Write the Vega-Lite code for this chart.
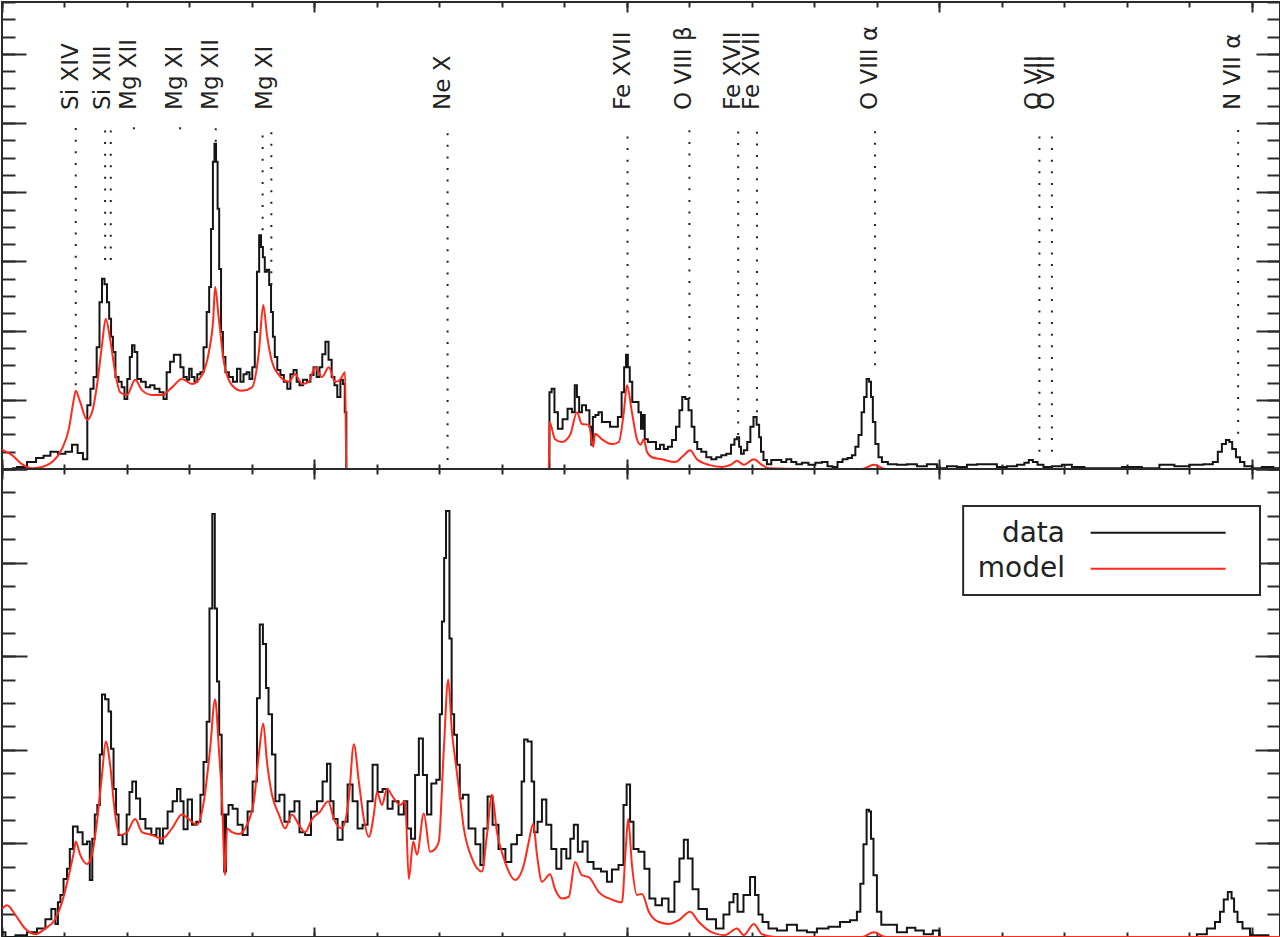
{
  "$schema": "https://vega.github.io/schema/vega-lite/v6.json",
  "padding": 0,
  "autosize": {"type": "pad"},
  "background": "white",
  "spacing": 0,
  "bounds": "flush",
  "config": {
    "view": {"stroke": "#2a2a2a", "strokeWidth": 2},
    "axis": {"labels": false, "domain": false, "grid": false, "tickColor": "#2a2a2a", "tickWidth": 2, "minExtent": 0, "maxExtent": 0},
    "text": {"font": "DejaVu Sans"}
  },
  "datasets": {
    "topData": [
      {"wl":5.16,"flux":0.01},{"wl":5.32,"flux":0.03},{"wl":5.48,"flux":0.10},{"wl":5.61,"flux":0.16},{"wl":5.72,"flux":0.19},{"wl":5.83,"flux":0.25},{"wl":5.96,"flux":0.22},{"wl":6.07,"flux":0.25},{"wl":6.17,"flux":0.35},{"wl":6.25,"flux":0.23},{"wl":6.34,"flux":0.14},
      {"wl":6.39,"flux":0.92},{"wl":6.44,"flux":1.16},{"wl":6.49,"flux":1.33},{"wl":6.54,"flux":1.76},{"wl":6.58,"flux":2.41},{"wl":6.62,"flux":2.75},{"wl":6.66,"flux":2.67},{"wl":6.70,"flux":2.41},{"wl":6.73,"flux":2.17},{"wl":6.76,"flux":1.91},{"wl":6.79,"flux":1.69},{"wl":6.84,"flux":1.33},{"wl":6.89,"flux":1.26},{"wl":6.94,"flux":1.18},{"wl":6.98,"flux":1.01},
      {"wl":7.03,"flux":1.30},{"wl":7.06,"flux":1.62},{"wl":7.10,"flux":1.79},{"wl":7.14,"flux":1.69},{"wl":7.19,"flux":1.30},{"wl":7.26,"flux":1.26},{"wl":7.34,"flux":1.18},{"wl":7.40,"flux":1.21},{"wl":7.48,"flux":1.16},{"wl":7.56,"flux":1.11},{"wl":7.61,"flux":1.01},{"wl":7.66,"flux":1.40},{"wl":7.72,"flux":1.55},{"wl":7.78,"flux":1.65},{"wl":7.83,"flux":1.65},{"wl":7.88,"flux":1.47},{"wl":7.93,"flux":1.33},{"wl":7.98,"flux":1.29},
      {"wl":8.01,"flux":1.45},{"wl":8.06,"flux":1.33},{"wl":8.10,"flux":1.26},{"wl":8.15,"flux":1.37},{"wl":8.20,"flux":1.40},{"wl":8.25,"flux":1.76},{"wl":8.30,"flux":2.27},{"wl":8.33,"flux":2.63},{"wl":8.36,"flux":3.47},{"wl":8.39,"flux":4.44},{"wl":8.41,"flux":4.70},{"wl":8.44,"flux":4.44},{"wl":8.46,"flux":3.76},{"wl":8.49,"flux":2.89},{"wl":8.52,"flux":1.98},{"wl":8.55,"flux":1.62},{"wl":8.60,"flux":1.40},{"wl":8.66,"flux":1.33},{"wl":8.73,"flux":1.26},{"wl":8.79,"flux":1.45},{"wl":8.84,"flux":1.26},{"wl":8.89,"flux":1.37},{"wl":8.94,"flux":1.40},{"wl":8.98,"flux":1.30},
      {"wl":9.03,"flux":1.47},{"wl":9.06,"flux":1.98},{"wl":9.10,"flux":2.85},{"wl":9.13,"flux":3.38},{"wl":9.16,"flux":3.21},{"wl":9.19,"flux":3.06},{"wl":9.22,"flux":2.85},{"wl":9.26,"flux":2.88},{"wl":9.29,"flux":2.66},{"wl":9.32,"flux":2.27},{"wl":9.35,"flux":1.91},{"wl":9.38,"flux":1.62},{"wl":9.43,"flux":1.43},{"wl":9.48,"flux":1.36},{"wl":9.54,"flux":1.26},{"wl":9.59,"flux":1.16},{"wl":9.64,"flux":1.37},{"wl":9.69,"flux":1.43},{"wl":9.74,"flux":1.26},{"wl":9.78,"flux":1.21},{"wl":9.85,"flux":1.29},{"wl":9.91,"flux":1.26},{"wl":9.96,"flux":1.36},
      {"wl":10.01,"flux":1.47},{"wl":10.06,"flux":1.33},{"wl":10.10,"flux":1.47},{"wl":10.15,"flux":1.66},{"wl":10.20,"flux":1.84},{"wl":10.25,"flux":1.58},{"wl":10.30,"flux":1.33},{"wl":10.34,"flux":1.21},{"wl":10.39,"flux":1.04},{"wl":10.44,"flux":1.29},{"wl":10.47,"flux":1.23},{"wl":10.50,"flux":0.82},{"wl":10.52,"flux":0},
      {"wl":13.75,"flux":0},{"wl":13.77,"flux":1.11},{"wl":13.82,"flux":1.16},{"wl":13.86,"flux":0.82},{"wl":13.93,"flux":0.58},{"wl":14.01,"flux":0.72},{"wl":14.09,"flux":0.87},{"wl":14.15,"flux":0.82},{"wl":14.18,"flux":1.21},{"wl":14.22,"flux":1.04},{"wl":14.25,"flux":0.82},{"wl":14.31,"flux":0.92},{"wl":14.38,"flux":0.85},{"wl":14.42,"flux":0.61},{"wl":14.44,"flux":0.35},{"wl":14.47,"flux":0.75},{"wl":14.52,"flux":0.78},{"wl":14.57,"flux":0.82},{"wl":14.63,"flux":0.68},{"wl":14.70,"flux":0.68},{"wl":14.76,"flux":0.61},{"wl":14.82,"flux":0.61},{"wl":14.89,"flux":0.75},{"wl":14.94,"flux":1.11},{"wl":14.97,"flux":1.47},
      {"wl":15.00,"flux":1.65},{"wl":15.03,"flux":1.47},{"wl":15.06,"flux":1.26},{"wl":15.11,"flux":0.97},{"wl":15.16,"flux":0.97},{"wl":15.21,"flux":0.82},{"wl":15.24,"flux":0.58},{"wl":15.27,"flux":0.78},{"wl":15.30,"flux":0.43},{"wl":15.37,"flux":0.39},{"wl":15.43,"flux":0.39},{"wl":15.50,"flux":0.29},{"wl":15.56,"flux":0.35},{"wl":15.62,"flux":0.29},{"wl":15.69,"flux":0.32},{"wl":15.75,"flux":0.42},{"wl":15.82,"flux":0.61},{"wl":15.86,"flux":0.85},{"wl":15.91,"flux":1.04},{"wl":15.96,"flux":1.01},
      {"wl":16.01,"flux":0.85},{"wl":16.06,"flux":0.61},{"wl":16.10,"flux":0.39},{"wl":16.15,"flux":0.29},{"wl":16.23,"flux":0.25},{"wl":16.31,"flux":0.17},{"wl":16.39,"flux":0.14},{"wl":16.47,"flux":0.17},{"wl":16.55,"flux":0.20},{"wl":16.63,"flux":0.22},{"wl":16.70,"flux":0.35},{"wl":16.74,"flux":0.43},{"wl":16.78,"flux":0.46},{"wl":16.81,"flux":0.32},{"wl":16.84,"flux":0.22},{"wl":16.90,"flux":0.27},{"wl":16.95,"flux":0.39},
      {"wl":17.00,"flux":0.61},{"wl":17.05,"flux":0.75},{"wl":17.10,"flux":0.64},{"wl":17.13,"flux":0.46},{"wl":17.16,"flux":0.25},{"wl":17.21,"flux":0.13},{"wl":17.27,"flux":0.07},{"wl":17.35,"flux":0.13},{"wl":17.43,"flux":0.13},{"wl":17.51,"flux":0.10},{"wl":17.59,"flux":0.14},{"wl":17.67,"flux":0.10},{"wl":17.75,"flux":0.07},{"wl":17.85,"flux":0.09},{"wl":17.96,"flux":0.06},
      {"wl":18.07,"flux":0.09},{"wl":18.17,"flux":0.10},{"wl":18.25,"flux":0.04},{"wl":18.33,"flux":0.03},{"wl":18.41,"flux":0.10},{"wl":18.49,"flux":0.14},{"wl":18.57,"flux":0.16},{"wl":18.63,"flux":0.20},{"wl":18.68,"flux":0.32},{"wl":18.73,"flux":0.49},{"wl":18.78,"flux":0.82},{"wl":18.81,"flux":1.04},{"wl":18.86,"flux":1.30},{"wl":18.89,"flux":1.26},{"wl":18.92,"flux":1.04},{"wl":18.95,"flux":0.68},
      {"wl":19.00,"flux":0.36},{"wl":19.05,"flux":0.17},{"wl":19.11,"flux":0.10},{"wl":19.24,"flux":0.07},{"wl":19.40,"flux":0.06},{"wl":19.56,"flux":0.07},{"wl":19.72,"flux":0.04},{"wl":19.88,"flux":0.07},{"wl":20.04,"flux":0.01},{"wl":20.20,"flux":0.04},{"wl":20.36,"flux":0.03},{"wl":20.52,"flux":0.06},{"wl":20.68,"flux":0.07},{"wl":20.84,"flux":0.07},
      {"wl":21.00,"flux":0.03},{"wl":21.16,"flux":0.04},{"wl":21.32,"flux":0.06},{"wl":21.40,"flux":0.09},{"wl":21.46,"flux":0.13},{"wl":21.53,"flux":0.10},{"wl":21.61,"flux":0.06},{"wl":21.72,"flux":0.03},{"wl":21.88,"flux":0.04},{"wl":22.04,"flux":0.06},{"wl":22.20,"flux":0.03},{"wl":22.44,"flux":0.01},{"wl":22.76,"flux":0.01},{"wl":23.08,"flux":0.03},{"wl":23.40,"flux":0.01},{"wl":23.64,"flux":0.06},{"wl":23.88,"flux":0.04},
      {"wl":24.12,"flux":0.06},{"wl":24.33,"flux":0.07},{"wl":24.42,"flux":0.10},{"wl":24.49,"flux":0.25},{"wl":24.55,"flux":0.36},{"wl":24.62,"flux":0.42},{"wl":24.66,"flux":0.39},{"wl":24.71,"flux":0.29},{"wl":24.78,"flux":0.17},{"wl":24.84,"flux":0.10},{"wl":24.92,"flux":0.04},{"wl":25.08,"flux":0.01},{"wl":25.24,"flux":0.03},{"wl":25.45,"flux":0.01}
    ],
    "topModel": [
      {"wl":5.00,"flux":0.28},{"wl":5.16,"flux":0.20},{"wl":5.32,"flux":0.07},{"wl":5.48,"flux":0.01},{"wl":5.64,"flux":0.03},{"wl":5.80,"flux":0.10},{"wl":5.96,"flux":0.29},{"wl":6.07,"flux":0.58},{"wl":6.15,"flux":1.01},{"wl":6.18,"flux":1.13},{"wl":6.25,"flux":0.97},{"wl":6.36,"flux":0.71},{"wl":6.44,"flux":0.82},{"wl":6.52,"flux":1.21},{"wl":6.60,"flux":1.79},{"wl":6.66,"flux":2.17},{"wl":6.73,"flux":1.88},{"wl":6.81,"flux":1.40},{"wl":6.89,"flux":1.11},
      {"wl":7.00,"flux":1.07},{"wl":7.13,"flux":1.29},{"wl":7.24,"flux":1.14},{"wl":7.40,"flux":1.07},{"wl":7.56,"flux":1.07},{"wl":7.72,"flux":1.18},{"wl":7.88,"flux":1.30},{"wl":8.04,"flux":1.23},{"wl":8.20,"flux":1.36},{"wl":8.31,"flux":1.69},{"wl":8.38,"flux":2.17},{"wl":8.41,"flux":2.63},{"wl":8.47,"flux":2.17},{"wl":8.55,"flux":1.55},{"wl":8.68,"flux":1.21},{"wl":8.84,"flux":1.13},
      {"wl":9.00,"flux":1.18},{"wl":9.11,"flux":1.69},{"wl":9.18,"flux":2.37},{"wl":9.24,"flux":1.94},{"wl":9.32,"flux":1.55},{"wl":9.43,"flux":1.36},{"wl":9.59,"flux":1.26},{"wl":9.69,"flux":1.37},{"wl":9.80,"flux":1.23},{"wl":9.91,"flux":1.26},{"wl":10.01,"flux":1.47},{"wl":10.12,"flux":1.33},{"wl":10.23,"flux":1.47},{"wl":10.33,"flux":1.26},{"wl":10.41,"flux":1.29},{"wl":10.49,"flux":1.40},{"wl":10.51,"flux":0},
      {"wl":13.75,"flux":0},{"wl":13.76,"flux":0.68},{"wl":13.85,"flux":0.43},{"wl":13.96,"flux":0.39},{"wl":14.09,"flux":0.49},{"wl":14.20,"flux":0.82},{"wl":14.28,"flux":0.65},{"wl":14.39,"flux":0.64},{"wl":14.46,"flux":0.32},{"wl":14.49,"flux":0.51},{"wl":14.60,"flux":0.43},{"wl":14.76,"flux":0.36},{"wl":14.87,"flux":0.39},{"wl":14.95,"flux":0.82},
      {"wl":15.00,"flux":1.21},{"wl":15.08,"flux":0.82},{"wl":15.16,"flux":0.43},{"wl":15.22,"flux":0.35},{"wl":15.27,"flux":0.43},{"wl":15.32,"flux":0.25},{"wl":15.40,"flux":0.17},{"wl":15.56,"flux":0.14},{"wl":15.77,"flux":0.10},{"wl":15.91,"flux":0.20},{"wl":16.01,"flux":0.27},{"wl":16.12,"flux":0.14},{"wl":16.31,"flux":0.06},{"wl":16.52,"flux":0.03},{"wl":16.68,"flux":0.07},{"wl":16.76,"flux":0.12},{"wl":16.87,"flux":0.06},
      {"wl":17.03,"flux":0.14},{"wl":17.16,"flux":0.06},{"wl":17.27,"flux":0.01},{"wl":17.80,"flux":0},{"wl":18.76,"flux":0},{"wl":18.95,"flux":0.06},{"wl":19.14,"flux":0},{"wl":25.45,"flux":0}
    ],
    "botData": [
      {"wl":5.00,"flux":0.05},{"wl":5.11,"flux":0},{"wl":5.32,"flux":0.02},{"wl":5.48,"flux":0.05},{"wl":5.64,"flux":0.09},{"wl":5.75,"flux":0.19},{"wl":5.83,"flux":0.30},{"wl":5.88,"flux":0.14},{"wl":5.91,"flux":0.37},{"wl":5.96,"flux":0.45},{"wl":6.01,"flux":0.62},{"wl":6.07,"flux":0.73},{"wl":6.10,"flux":0.94},{"wl":6.17,"flux":1.18},{"wl":6.25,"flux":1.12},{"wl":6.33,"flux":0.99},{"wl":6.39,"flux":1.02},{"wl":6.42,"flux":0.61},{"wl":6.47,"flux":1.05},{"wl":6.50,"flux":1.31},{"wl":6.55,"flux":1.41},{"wl":6.58,"flux":1.95},{"wl":6.62,"flux":2.59},{"wl":6.68,"flux":2.54},{"wl":6.73,"flux":2.41},{"wl":6.76,"flux":2.01},{"wl":6.81,"flux":1.58},{"wl":6.84,"flux":1.31},{"wl":6.89,"flux":1.09},{"wl":6.97,"flux":0.99},
      {"wl":7.02,"flux":1.31},{"wl":7.06,"flux":1.55},{"wl":7.11,"flux":1.66},{"wl":7.18,"flux":1.48},{"wl":7.24,"flux":1.26},{"wl":7.35,"flux":1.16},{"wl":7.43,"flux":1.09},{"wl":7.51,"flux":1.16},{"wl":7.54,"flux":1.00},{"wl":7.61,"flux":1.16},{"wl":7.69,"flux":1.34},{"wl":7.77,"flux":1.45},{"wl":7.83,"flux":1.58},{"wl":7.88,"flux":1.45},{"wl":7.93,"flux":1.15},
      {"wl":8.01,"flux":1.47},{"wl":8.07,"flux":1.20},{"wl":8.15,"flux":1.23},{"wl":8.20,"flux":1.52},{"wl":8.25,"flux":1.87},{"wl":8.30,"flux":2.30},{"wl":8.34,"flux":3.51},{"wl":8.39,"flux":4.52},{"wl":8.42,"flux":3.51},{"wl":8.46,"flux":2.73},{"wl":8.49,"flux":2.16},{"wl":8.54,"flux":1.31},{"wl":8.57,"flux":0.70},{"wl":8.60,"flux":1.31},{"wl":8.65,"flux":1.41},{"wl":8.73,"flux":1.37},{"wl":8.81,"flux":1.20},{"wl":8.89,"flux":1.09},{"wl":8.97,"flux":1.34},
      {"wl":9.05,"flux":1.66},{"wl":9.11,"flux":2.55},{"wl":9.14,"flux":3.34},{"wl":9.21,"flux":3.13},{"wl":9.24,"flux":2.66},{"wl":9.29,"flux":2.38},{"wl":9.35,"flux":1.95},{"wl":9.40,"flux":1.45},{"wl":9.48,"flux":1.52},{"wl":9.56,"flux":1.23},{"wl":9.64,"flux":1.34},{"wl":9.72,"flux":1.45},{"wl":9.80,"flux":1.12},{"wl":9.90,"flux":1.09},{"wl":9.99,"flux":1.34},
      {"wl":10.09,"flux":1.45},{"wl":10.17,"flux":1.66},{"wl":10.23,"flux":1.85},{"wl":10.28,"flux":1.45},{"wl":10.33,"flux":1.26},{"wl":10.41,"flux":1.04},{"wl":10.49,"flux":1.23},{"wl":10.57,"flux":1.63},{"wl":10.65,"flux":1.45},{"wl":10.73,"flux":1.16},{"wl":10.81,"flux":1.20},{"wl":10.89,"flux":1.45},{"wl":10.97,"flux":1.84},
      {"wl":11.05,"flux":1.55},{"wl":11.13,"flux":1.58},{"wl":11.21,"flux":1.37},{"wl":11.29,"flux":1.45},{"wl":11.40,"flux":1.31},{"wl":11.46,"flux":1.45},{"wl":11.51,"flux":1.16},{"wl":11.58,"flux":1.05},{"wl":11.64,"flux":1.73},{"wl":11.70,"flux":2.12},{"wl":11.77,"flux":1.73},{"wl":11.83,"flux":1.31},{"wl":11.91,"flux":1.64},{"wl":11.99,"flux":1.68},
      {"wl":12.02,"flux":2.38},{"wl":12.06,"flux":3.37},{"wl":12.09,"flux":4.05},{"wl":12.12,"flux":4.55},{"wl":12.15,"flux":4.55},{"wl":12.17,"flux":3.19},{"wl":12.22,"flux":2.38},{"wl":12.25,"flux":2.16},{"wl":12.31,"flux":1.84},{"wl":12.34,"flux":1.48},{"wl":12.41,"flux":1.52},{"wl":12.52,"flux":1.16},{"wl":12.63,"flux":0.99},{"wl":12.68,"flux":0.77},{"wl":12.73,"flux":1.16},{"wl":12.81,"flux":1.50},{"wl":12.89,"flux":1.20},
      {"wl":13.00,"flux":0.94},{"wl":13.11,"flux":0.80},{"wl":13.19,"flux":0.99},{"wl":13.29,"flux":1.09},{"wl":13.34,"flux":1.66},{"wl":13.37,"flux":2.11},{"wl":13.45,"flux":2.09},{"wl":13.50,"flux":1.66},{"wl":13.53,"flux":1.12},{"wl":13.61,"flux":1.23},{"wl":13.67,"flux":1.47},{"wl":13.75,"flux":1.20},{"wl":13.83,"flux":0.94},{"wl":13.91,"flux":0.73},{"wl":13.99,"flux":0.94},
      {"wl":14.07,"flux":0.84},{"wl":14.12,"flux":1.05},{"wl":14.18,"flux":1.20},{"wl":14.25,"flux":0.91},{"wl":14.33,"flux":1.02},{"wl":14.41,"flux":0.80},{"wl":14.52,"flux":0.73},{"wl":14.65,"flux":0.70},{"wl":14.71,"flux":0.59},{"wl":14.81,"flux":0.72},{"wl":14.92,"flux":0.77},{"wl":14.97,"flux":1.41},
      {"wl":15.02,"flux":1.63},{"wl":15.08,"flux":1.23},{"wl":15.13,"flux":0.94},{"wl":15.24,"flux":0.91},{"wl":15.32,"flux":0.73},{"wl":15.40,"flux":0.41},{"wl":15.51,"flux":0.34},{"wl":15.61,"flux":0.41},{"wl":15.72,"flux":0.27},{"wl":15.80,"flux":0.59},{"wl":15.88,"flux":0.84},{"wl":15.94,"flux":1.04},
      {"wl":16.01,"flux":0.84},{"wl":16.09,"flux":0.51},{"wl":16.20,"flux":0.30},{"wl":16.36,"flux":0.19},{"wl":16.49,"flux":0.09},{"wl":16.60,"flux":0.24},{"wl":16.68,"flux":0.37},{"wl":16.73,"flux":0.46},{"wl":16.81,"flux":0.27},{"wl":16.92,"flux":0.45},
      {"wl":17.02,"flux":0.64},{"wl":17.08,"flux":0.45},{"wl":17.13,"flux":0.24},{"wl":17.21,"flux":0.16},{"wl":17.32,"flux":0.09},{"wl":17.48,"flux":0.07},{"wl":17.64,"flux":0.13},{"wl":17.80,"flux":0.07},{"wl":17.96,"flux":0.05},
      {"wl":18.12,"flux":0.09},{"wl":18.33,"flux":0.11},{"wl":18.49,"flux":0.16},{"wl":18.65,"flux":0.18},{"wl":18.71,"flux":0.27},{"wl":18.76,"flux":0.57},{"wl":18.81,"flux":0.99},{"wl":18.86,"flux":1.36},{"wl":18.89,"flux":1.34},{"wl":18.92,"flux":1.05},{"wl":18.97,"flux":0.66},
      {"wl":19.03,"flux":0.27},{"wl":19.11,"flux":0.13},{"wl":19.24,"flux":0.13},{"wl":19.40,"flux":0.05},{"wl":19.56,"flux":0.10},{"wl":19.67,"flux":0.07},{"wl":19.83,"flux":0.03},{"wl":19.96,"flux":0.07},{"wl":20.04,"flux":0},
      {"wl":24.04,"flux":0},{"wl":24.20,"flux":0.03},{"wl":24.36,"flux":0.09},{"wl":24.46,"flux":0.16},{"wl":24.52,"flux":0.27},{"wl":24.58,"flux":0.40},{"wl":24.65,"flux":0.48},{"wl":24.70,"flux":0.41},{"wl":24.73,"flux":0.27},{"wl":24.81,"flux":0.16},{"wl":24.89,"flux":0.09},{"wl":25.05,"flux":0.02},{"wl":25.21,"flux":0.02},{"wl":25.32,"flux":0},{"wl":25.45,"flux":0}
    ],
    "botModel": [
      {"wl":5.00,"flux":0.30},{"wl":5.08,"flux":0.34},{"wl":5.21,"flux":0.24},{"wl":5.37,"flux":0.09},{"wl":5.53,"flux":0.03},{"wl":5.69,"flux":0.09},{"wl":5.85,"flux":0.19},{"wl":5.96,"flux":0.37},{"wl":6.07,"flux":0.66},{"wl":6.15,"flux":0.91},{"wl":6.18,"flux":1.02},{"wl":6.25,"flux":0.88},{"wl":6.36,"flux":0.78},{"wl":6.44,"flux":0.88},{"wl":6.52,"flux":1.23},{"wl":6.60,"flux":1.73},{"wl":6.66,"flux":2.09},{"wl":6.73,"flux":1.84},{"wl":6.81,"flux":1.31},{"wl":6.89,"flux":1.09},
      {"wl":7.00,"flux":1.12},{"wl":7.13,"flux":1.26},{"wl":7.24,"flux":1.12},{"wl":7.40,"flux":1.09},{"wl":7.56,"flux":1.05},{"wl":7.72,"flux":1.16},{"wl":7.88,"flux":1.31},{"wl":7.99,"flux":1.26},{"wl":8.12,"flux":1.20},{"wl":8.23,"flux":1.45},{"wl":8.33,"flux":2.01},{"wl":8.41,"flux":2.54},{"wl":8.47,"flux":2.01},{"wl":8.52,"flux":1.48},{"wl":8.57,"flux":0.66},{"wl":8.60,"flux":1.16},{"wl":8.68,"flux":1.12},{"wl":8.79,"flux":1.10},{"wl":8.89,"flux":1.16},
      {"wl":9.03,"flux":1.45},{"wl":9.11,"flux":1.95},{"wl":9.18,"flux":2.28},{"wl":9.24,"flux":1.87},{"wl":9.32,"flux":1.52},{"wl":9.43,"flux":1.31},{"wl":9.53,"flux":1.16},{"wl":9.64,"flux":1.31},{"wl":9.75,"flux":1.20},{"wl":9.85,"flux":1.12},{"wl":9.96,"flux":1.26},
      {"wl":10.09,"flux":1.34},{"wl":10.22,"flux":1.45},{"wl":10.31,"flux":1.26},{"wl":10.44,"flux":1.16},{"wl":10.55,"flux":1.48},{"wl":10.63,"flux":2.06},{"wl":10.71,"flux":1.66},{"wl":10.79,"flux":1.26},{"wl":10.87,"flux":1.07},{"wl":10.95,"flux":1.31},
      {"wl":11.00,"flux":1.55},{"wl":11.08,"flux":1.41},{"wl":11.16,"flux":1.58},{"wl":11.27,"flux":1.48},{"wl":11.37,"flux":1.41},{"wl":11.45,"flux":1.45},{"wl":11.51,"flux":0.62},{"wl":11.58,"flux":1.02},{"wl":11.64,"flux":0.88},{"wl":11.75,"flux":1.32},{"wl":11.85,"flux":0.91},{"wl":11.93,"flux":0.94},{"wl":11.99,"flux":1.02},
      {"wl":12.07,"flux":2.01},{"wl":12.14,"flux":2.75},{"wl":12.20,"flux":2.19},{"wl":12.25,"flux":1.91},{"wl":12.33,"flux":1.48},{"wl":12.39,"flux":1.16},{"wl":12.52,"flux":0.84},{"wl":12.68,"flux":0.70},{"wl":12.76,"flux":1.09},{"wl":12.84,"flux":1.52},{"wl":12.92,"flux":1.12},
      {"wl":13.03,"flux":0.84},{"wl":13.21,"flux":0.61},{"wl":13.35,"flux":0.77},{"wl":13.43,"flux":1.02},{"wl":13.50,"flux":1.21},{"wl":13.56,"flux":0.88},{"wl":13.64,"flux":0.59},{"wl":13.77,"flux":0.67},{"wl":13.85,"flux":0.51},{"wl":13.96,"flux":0.41},
      {"wl":14.07,"flux":0.43},{"wl":14.17,"flux":0.80},{"wl":14.28,"flux":0.66},{"wl":14.39,"flux":0.64},{"wl":14.55,"flux":0.48},{"wl":14.76,"flux":0.40},{"wl":14.92,"flux":0.37},{"wl":14.98,"flux":0.94},{"wl":15.02,"flux":1.26},{"wl":15.08,"flux":0.77},{"wl":15.16,"flux":0.45},{"wl":15.24,"flux":0.46},{"wl":15.35,"flux":0.27},{"wl":15.51,"flux":0.16},{"wl":15.67,"flux":0.14},{"wl":15.83,"flux":0.18},
      {"wl":16.01,"flux":0.27},{"wl":16.15,"flux":0.16},{"wl":16.36,"flux":0.05},{"wl":16.57,"flux":0.02},{"wl":16.76,"flux":0.09},{"wl":16.87,"flux":0.02},{"wl":17.03,"flux":0.14},{"wl":17.16,"flux":0.03},{"wl":17.37,"flux":0},{"wl":18.76,"flux":0},{"wl":18.95,"flux":0.05},{"wl":19.14,"flux":0},{"wl":25.45,"flux":0}
    ],
    "markers": [
      {"wl":6.18,"end":1.21},{"wl":6.65,"end":3.02},{"wl":6.74,"end":3.02},{"wl":7.11,"end":4.91},{"wl":7.85,"end":4.91},{"wl":8.42,"end":4.73},{"wl":9.17,"end":3.45},{"wl":9.31,"end":2.66},{"wl":12.13,"end":0.13},{"wl":15.01,"end":1.76},{"wl":16.0,"end":1.01},{"wl":16.78,"end":0.49},{"wl":17.08,"end":0.82},{"wl":18.97,"end":1.50},{"wl":21.6,"end":0.25},{"wl":21.8,"end":0.25},{"wl":24.78,"end":0.51}
    ],
    "labels": [
      {"label":"Si XIV","wl":6.18},{"label":"Si XIII","wl":6.70},{"label":"Mg XII","wl":7.11},{"label":"Mg XI","wl":7.85},{"label":"Mg XII","wl":8.42},{"label":"Mg XI","wl":9.29},{"label":"Ne X","wl":12.13},{"label":"Fe XVII","wl":15.01},{"label":"O VIII β","wl":16.0},{"label":"Fe XVII","wl":16.78},{"label":"Fe XVII","wl":17.08},{"label":"O VIII α","wl":18.97},{"label":"O VII","wl":21.6},{"label":"O VII","wl":21.8},{"label":"N VII α","wl":24.78}
    ]
  },
  "vconcat": [
    {
      "width": 1278,
      "height": 467,
      "resolve": {"axis": {"x": "independent", "y": "independent"}},
      "layer": [
        {
          "data": {"name": "topData"},
          "mark": {"type": "line", "interpolate": "step", "color": "#151515", "strokeWidth": 2, "clip": true},
          "encoding": {
            "x": {"field": "wl", "type": "quantitative", "scale": {"domain": [5, 25.45], "nice": false, "zero": false},
                  "axis": {"orient": "bottom", "values": [5, 10, 15, 20, 25], "tickSize": -10, "title": null}},
            "y": {"field": "flux", "type": "quantitative", "scale": {"domain": [0, 6.75], "nice": false},
                  "axis": {"orient": "left", "values": [0, 1, 2, 3, 4, 5, 6], "tickSize": -24, "title": null}}
          }
        },
        {
          "data": {"name": "topModel"},
          "mark": {"type": "line", "interpolate": "monotone", "color": "#ff2a1c", "strokeWidth": 2, "clip": true},
          "encoding": {
            "x": {"field": "wl", "type": "quantitative", "scale": {"domain": [5, 25.45], "nice": false, "zero": false},
                  "axis": {"orient": "bottom", "values": [5,6,7,8,9,10,11,12,13,14,15,16,17,18,19,20,21,22,23,24,25], "tickSize": -5, "title": null}},
            "y": {"field": "flux", "type": "quantitative", "scale": {"domain": [0, 6.75], "nice": false},
                  "axis": {"orient": "left", "values": [0,0.25,0.5,0.75,1,1.25,1.5,1.75,2,2.25,2.5,2.75,3,3.25,3.5,3.75,4,4.25,4.5,4.75,5,5.25,5.5,5.75,6,6.25,6.5,6.75], "tickSize": -13, "title": null}}
          }
        },
        {
          "data": {"name": "markers"},
          "mark": {"type": "rule", "color": "#222222", "strokeWidth": 2, "strokeDash": [2, 9.6]},
          "encoding": {
            "x": {"field": "wl", "type": "quantitative", "scale": {"domain": [5, 25.45], "nice": false, "zero": false},
                  "axis": {"orient": "top", "values": [5, 10, 15, 20, 25], "tickSize": -10, "title": null}},
            "y": {"field": "end", "type": "quantitative", "scale": {"domain": [0, 6.75], "nice": false},
                  "axis": {"orient": "right", "values": [0, 1, 2, 3, 4, 5, 6], "tickSize": -24, "title": null}},
            "y2": {"datum": 4.94}
          }
        },
        {
          "data": {"name": "labels"},
          "mark": {"type": "text", "angle": 270, "align": "left", "baseline": "alphabetic", "dy": 2, "fontSize": 23, "color": "#222222"},
          "encoding": {
            "x": {"field": "wl", "type": "quantitative", "scale": {"domain": [5, 25.45], "nice": false, "zero": false},
                  "axis": {"orient": "top", "values": [5,6,7,8,9,10,11,12,13,14,15,16,17,18,19,20,21,22,23,24,25], "tickSize": -5, "title": null}},
            "y": {"datum": 5.19, "type": "quantitative", "scale": {"domain": [0, 6.75], "nice": false},
                  "axis": {"orient": "right", "values": [0,0.25,0.5,0.75,1,1.25,1.5,1.75,2,2.25,2.5,2.75,3,3.25,3.5,3.75,4,4.25,4.5,4.75,5,5.25,5.5,5.75,6,6.25,6.5,6.75], "tickSize": -13, "title": null}},
            "text": {"field": "label"}
          }
        }
      ]
    },
    {
      "width": 1278,
      "height": 468,
      "resolve": {"axis": {"x": "independent", "y": "independent"}},
      "layer": [
        {
          "data": {"name": "botData"},
          "mark": {"type": "line", "interpolate": "step", "color": "#151515", "strokeWidth": 2, "clip": true},
          "encoding": {
            "x": {"field": "wl", "type": "quantitative", "scale": {"domain": [5, 25.45], "nice": false, "zero": false},
                  "axis": {"orient": "bottom", "values": [5, 10, 15, 20, 25], "tickSize": -10, "title": null}},
            "y": {"field": "flux", "type": "quantitative", "scale": {"domain": [0, 5], "nice": false},
                  "axis": {"orient": "left", "values": [0, 1, 2, 3, 4, 5], "tickSize": -25, "title": null}}
          }
        },
        {
          "data": {"name": "botModel"},
          "mark": {"type": "line", "interpolate": "monotone", "color": "#ff2a1c", "strokeWidth": 2, "clip": true},
          "encoding": {
            "x": {"field": "wl", "type": "quantitative", "scale": {"domain": [5, 25.45], "nice": false, "zero": false},
                  "axis": {"orient": "bottom", "values": [5,6,7,8,9,10,11,12,13,14,15,16,17,18,19,20,21,22,23,24,25], "tickSize": -5, "title": null}},
            "y": {"field": "flux", "type": "quantitative", "scale": {"domain": [0, 5], "nice": false},
                  "axis": {"orient": "left", "values": [0,0.25,0.5,0.75,1,1.25,1.5,1.75,2,2.25,2.5,2.75,3,3.25,3.5,3.75,4,4.25,4.5,4.75,5], "tickSize": -13, "title": null}}
          }
        },
        {
          "data": {"values": [{}]},
          "mark": {"type": "rect", "fill": "white", "stroke": "#2a2a2a", "strokeWidth": 2},
          "encoding": {
            "x": {"datum": 20.38, "type": "quantitative", "scale": {"domain": [5, 25.45], "nice": false, "zero": false},
                  "axis": {"orient": "top", "values": [5, 10, 15, 20, 25], "tickSize": -10, "title": null}},
            "x2": {"datum": 25.13},
            "y": {"datum": 4.605, "type": "quantitative", "scale": {"domain": [0, 5], "nice": false},
                  "axis": {"orient": "right", "values": [0, 1, 2, 3, 4, 5], "tickSize": -25, "title": null}},
            "y2": {"datum": 3.654}
          }
        },
        {
          "data": {"values": [{}]},
          "mark": {"type": "text", "text": "data", "align": "right", "baseline": "alphabetic", "fontSize": 28, "color": "#222222"},
          "encoding": {
            "x": {"datum": 22.01, "type": "quantitative", "scale": {"domain": [5, 25.45], "nice": false, "zero": false},
                  "axis": {"orient": "top", "values": [5,6,7,8,9,10,11,12,13,14,15,16,17,18,19,20,21,22,23,24,25], "tickSize": -5, "title": null}},
            "y": {"datum": 4.22, "type": "quantitative", "scale": {"domain": [0, 5], "nice": false},
                  "axis": {"orient": "right", "values": [0,0.25,0.5,0.75,1,1.25,1.5,1.75,2,2.25,2.5,2.75,3,3.25,3.5,3.75,4,4.25,4.5,4.75,5], "tickSize": -13, "title": null}}
          }
        },
        {
          "data": {"values": [{}]},
          "mark": {"type": "text", "text": "model", "align": "right", "baseline": "alphabetic", "fontSize": 28, "color": "#222222"},
          "encoding": {
            "x": {"datum": 22.01, "type": "quantitative", "scale": {"domain": [5, 25.45], "nice": false, "zero": false}, "axis": null},
            "y": {"datum": 3.846, "type": "quantitative", "scale": {"domain": [0, 5], "nice": false}, "axis": null}
          }
        },
        {
          "data": {"values": [{}]},
          "mark": {"type": "rule", "color": "#151515", "strokeWidth": 2},
          "encoding": {
            "x": {"datum": 22.42, "type": "quantitative", "scale": {"domain": [5, 25.45], "nice": false, "zero": false}, "axis": null},
            "x2": {"datum": 24.58},
            "y": {"datum": 4.32, "type": "quantitative", "scale": {"domain": [0, 5], "nice": false}, "axis": null}
          }
        },
        {
          "data": {"values": [{}]},
          "mark": {"type": "rule", "color": "#ff2a1c", "strokeWidth": 2},
          "encoding": {
            "x": {"datum": 22.42, "type": "quantitative", "scale": {"domain": [5, 25.45], "nice": false, "zero": false}, "axis": null},
            "x2": {"datum": 24.58},
            "y": {"datum": 3.935, "type": "quantitative", "scale": {"domain": [0, 5], "nice": false}, "axis": null}
          }
        }
      ]
    }
  ]
}
